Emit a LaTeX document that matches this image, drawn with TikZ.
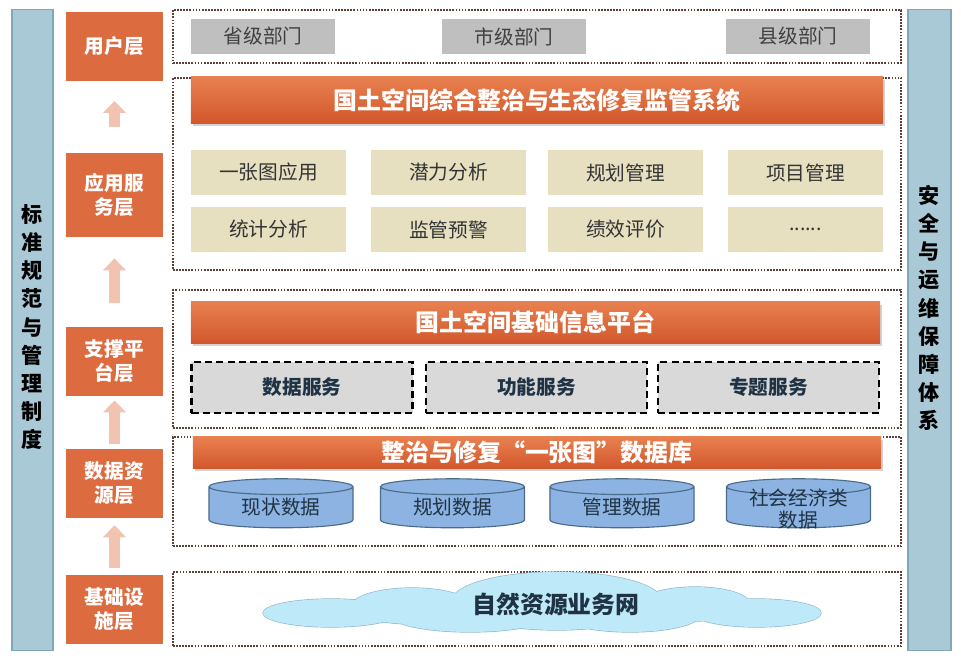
\documentclass[tikz,border=0pt]{standalone}
\usepackage{fontspec}
\setmainfont{Noto Sans CJK SC}
\usepackage{xcolor}
\usepackage{tikz}
\usetikzlibrary{shapes.geometric,arrows.meta,shadows}
\definecolor{Rust}{HTML}{DD6B40}
\definecolor{RustTop}{HTML}{E8804F}
\definecolor{RustBot}{HTML}{D2582C}
\definecolor{Steel}{HTML}{A9C9D6}
\definecolor{SteelEdge}{HTML}{7FA7B8}
\definecolor{Sand}{HTML}{E6E0C1}
\definecolor{Silver}{HTML}{BFBFBF}
\definecolor{Mist}{HTML}{D9D9D9}
\definecolor{Sky}{HTML}{8DB3E2}
\definecolor{SkyEdge}{HTML}{4A6B8A}
\definecolor{CloudBlue}{HTML}{BEE9F8}
\definecolor{Salmon}{HTML}{F3C3B1}
\definecolor{Umber}{HTML}{5C4033}
\definecolor{Ink}{HTML}{1F3344}

\begin{document}
\begin{tikzpicture}[x=0.025cm, y=-0.025cm,
                side/.style={draw=SteelEdge, fill=Steel, line width=0.8pt,
                             minimum width=1.025cm, minimum height=16cm, inner sep=0pt},
                sidetext/.style={align=center, text=black,
                                 font=\bfseries\fontsize{15}{20}\selectfont},
                layer/.style={fill=Rust, minimum width=2.425cm, minimum height=1.725cm,
                              inner sep=0pt, text=white, align=center,
                              font=\bfseries\fontsize{14}{17}\selectfont},
                panel/.style={draw=Umber, line width=1pt, dash pattern=on 1.2pt off 1pt,
                              minimum width=18.2cm, inner sep=0pt},
                bar/.style={top color=RustTop, bottom color=RustBot, inner sep=0pt,
                            drop shadow={shadow xshift=1.5pt, shadow yshift=-2pt, opacity=0.35},
                            text=white, font=\bfseries\fontsize{17}{20}\selectfont},
                dept/.style={fill=Silver, minimum width=3.6cm, minimum height=0.875cm,
                             inner sep=0pt, text=black!75, font=\fontsize{14}{17}\selectfont},
                func/.style={fill=Sand, minimum width=3.875cm, minimum height=1.125cm,
                             inner sep=0pt, text=black!80, font=\fontsize{14}{17}\selectfont},
                svc/.style={draw=black, fill=Mist, line width=1.5pt, dash pattern=on 5pt off 3pt,
                            minimum width=5.525cm, minimum height=1.275cm, inner sep=0pt,
                            text=Ink, font=\bfseries\fontsize{14}{17}\selectfont},
                db/.style={cylinder, shape border rotate=90, aspect=0.2, draw=SkyEdge, fill=Sky,
                           line width=0.8pt, minimum width=3.6cm, minimum height=1.225cm,
                           inner sep=0pt, align=center, text=Ink,
                           font=\fontsize{14}{16}\selectfont},
                dbtext/.style={align=center, text=Ink, font=\fontsize{14}{16}\selectfont},
                puff/.style={draw=CloudBlue!60!SkyEdge, line width=0.9pt},
                nettext/.style={text=Ink, font=\bfseries\fontsize{17}{20}\selectfont},
                uparrow/.style={draw=Salmon, line width=8.5pt,
                                -{Triangle[length=8.5pt, width=16pt]}}]
                \useasboundingbox (0,0) rectangle (961,656);

                \node[side] (stdbar) at (32.5,330) {};
                \node[sidetext] (stdtext) at (32.5,327) {标\\准\\规\\范\\与\\管\\理\\制\\度};
                \node[side, minimum width=1.075cm] (secbar) at (929.5,330) {};
                \node[sidetext] (sectext) at (929.5,308) {安\\全\\与\\运\\维\\保\\障\\体\\系};

                \node[layer] (user)  at (114.5,46.5)  {用户层};
                \node[layer, minimum height=2.1cm] (app) at (114.5,195) {应用服\\务层};
                \node[layer] (plat)  at (114.5,361.5) {支撑平\\台层};
                \node[layer] (data)  at (114.5,483.5) {数据资\\源层};
                \node[layer] (infra) at (114.5,609.5) {基础设\\施层};

                \draw[uparrow, shorten <=5pt,  shorten >=5pt]  (infra) -- (data);
                \draw[uparrow, shorten <=3pt,  shorten >=3pt]  (data)  -- (plat);
                \draw[uparrow, shorten <=17pt, shorten >=15pt] (plat)  -- (app);
                \draw[uparrow, shorten <=18pt, shorten >=14pt] (app)   -- (user);

                \node[panel, minimum height=1.325cm] (userpanel)  at (537,36.5)  {};
                \node[panel, minimum height=4.8cm]   (apppanel)   at (537,174)   {};
                \node[panel, minimum height=3.45cm]  (platpanel)  at (537,359)   {};
                \node[panel, minimum height=2.725cm] (datapanel)  at (537,491.5) {};
                \node[panel, minimum height=1.85cm]  (infrapanel) at (537,609)   {};

                \node[dept] (prov)   at (263,36.5) {省级部门};
                \node[dept] (city)   at (514,36.5) {市级部门};
                \node[dept] (county) at (798,36.5) {县级部门};

                \node[bar, minimum width=17.3cm, minimum height=1.15cm] (appbar) at (537,100)
                    {国土空间综合整治与生态修复监管系统};
                \node[func] (onemap)    at (268.5,172.5) {一张图应用};
                \node[func] (potential) at (448.5,172.5) {潜力分析};
                \node[func] (planning)  at (625.5,172.5) {规划管理};
                \node[func] (project)   at (805.5,172.5) {项目管理};
                \node[func] (stats)     at (268.5,229.5) {统计分析};
                \node[func] (warning)   at (448.5,229.5) {监管预警};
                \node[func] (perf)      at (625.5,229.5) {绩效评价};
                \node[func] (more)      at (805.5,229.5) {......};

                \node[bar, minimum width=17.225cm, minimum height=1.025cm] (platbar) at (535.5,322.5)
                    {国土空间基础信息平台};
                \node[svc] (datasvc)  at (302,387.5)   {数据服务};
                \node[svc] (funcsvc)  at (536.5,387.5) {功能服务};
                \node[svc] (themesvc) at (768.5,387.5) {专题服务};

                \node[bar, minimum width=17.2cm, minimum height=0.775cm] (databar) at (537,452.5)
                    {整治与修复“一张图”数据库};
                \node[db] (current) at (281,507.5)   {现状数据};
                \node[db] (plan)    at (452.5,507.5) {规划数据};
                \node[db] (manage)  at (622,507.5)   {管理数据};
                \node[db] (socio)   at (798.5,507.5) {\phantom{现状数据}};
                \node[dbtext] (sociotext) at (798.5,509) {社会经济类\\数据};

                \draw[puff] (331,613) ellipse [x radius=68, y radius=14]
                            (412,606) ellipse [x radius=60, y radius=18]
                            (470,615) ellipse [x radius=80, y radius=17]
                            (557,601) ellipse [x radius=105, y radius=29]
                            (630,615) ellipse [x radius=70, y radius=17]
                            (695,604) ellipse [x radius=55, y radius=17]
                            (757,613) ellipse [x radius=64, y radius=14];
                \fill[CloudBlue] (331,613) ellipse [x radius=68, y radius=14]
                            (412,606) ellipse [x radius=60, y radius=18]
                            (470,615) ellipse [x radius=80, y radius=17]
                            (557,601) ellipse [x radius=105, y radius=29]
                            (630,615) ellipse [x radius=70, y radius=17]
                            (695,604) ellipse [x radius=55, y radius=17]
                            (757,613) ellipse [x radius=64, y radius=14];
                \node[nettext] (network) at (556,604) {自然资源业务网};
            \end{tikzpicture}
\end{document}
